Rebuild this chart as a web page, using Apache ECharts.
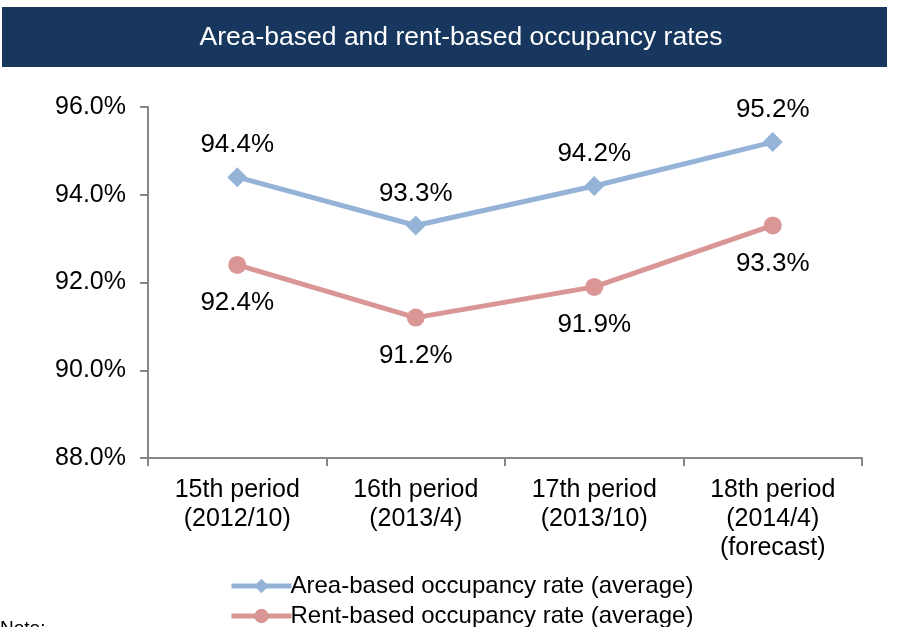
<!DOCTYPE html>
<html style="height: 100%">
    <head>
        <meta charset="utf-8">
    </head>
    <body style="height: 100%; margin: 0">
        <div id="container" style="width: 911px; height: 627px"></div>

        <script type="text/javascript" src="https://cdn.jsdelivr.net/npm/echarts@6/dist/echarts.min.js"></script>
        <script type="text/javascript">
var categories = [
    '15th period\n(2012/10)',
    '16th period\n(2013/4)',
    '17th period\n(2013/10)',
    '18th period\n(2014/4)\n(forecast)'
];
var areaRate = [94.4, 93.3, 94.2, 95.2];
var rentRate = [92.4, 91.2, 91.9, 93.3];
var seriesNames = ['Area-based occupancy rate (average)', 'Rent-based occupancy rate (average)'];

var dom = document.getElementById("container");
var myChart = echarts.init(dom);
var font = 'Liberation Sans, Arial, sans-serif';

var legendStyle = function (name, top) {
    return {
        left: 224,
        top: top,
        itemWidth: 60,
        itemHeight: 18,
        lineStyle: { width: 5 },
        textStyle: { fontSize: 24, color: '#000', fontFamily: font, padding: [0, 0, 0, -6] },
        data: [name]
    };
};

var option = {
    animation: false,
    backgroundColor: '#fff',
    textStyle: { fontFamily: font },
    graphic: [
        {
            type: 'rect',
            shape: { x: 2, y: 7, width: 885, height: 60 },
            style: { fill: '#17375e' }
        },
        {
            type: 'text',
            x: 461,
            y: 38,
            style: {
                text: 'Area-based and rent-based occupancy rates',
                fill: '#fff',
                font: '26.5px ' + font,
                align: 'center',
                verticalAlign: 'middle'
            }
        },
        {
            type: 'text',
            x: 0,
            y: 619,
            style: { text: 'Note:', fill: '#000', font: '19px ' + font }
        }
    ],
    grid: { left: 148, right: 49, top: 107, bottom: 169 },
    legend: [
        legendStyle(seriesNames[0], 569),
        legendStyle(seriesNames[1], 599)
    ],
    xAxis: {
        type: 'category',
        data: categories,
        axisLine: { lineStyle: { color: '#868686', width: 2 } },
        axisTick: { show: true, length: 8, lineStyle: { color: '#868686', width: 2 } },
        axisLabel: { fontSize: 25, color: '#000', lineHeight: 29, margin: 18, fontFamily: font }
    },
    yAxis: {
        type: 'value',
        min: 88,
        max: 96,
        interval: 2,
        axisLine: { show: true, lineStyle: { color: '#868686', width: 2 } },
        axisTick: { show: true, length: 8, lineStyle: { color: '#868686', width: 2 } },
        splitLine: { show: false },
        axisLabel: {
            fontSize: 25, color: '#000', margin: 22, fontFamily: font,
            formatter: function (v) { return v.toFixed(1) + '%'; }
        }
    },
    series: [
        {
            name: seriesNames[0],
            type: 'line',
            data: areaRate,
            symbol: 'diamond',
            symbolSize: 20,
            itemStyle: { color: '#95b3d7' },
            lineStyle: { width: 5, color: '#95b3d7' },
            label: {
                show: true, position: 'top', distance: 9, fontSize: 26, color: '#000', fontFamily: font,
                formatter: function (p) { return p.value.toFixed(1) + '%'; }
            }
        },
        {
            name: seriesNames[1],
            type: 'line',
            data: rentRate,
            symbol: 'circle',
            symbolSize: 18,
            itemStyle: { color: '#d99694' },
            lineStyle: { width: 5, color: '#d99694' },
            label: {
                show: true, position: 'bottom', distance: 16, fontSize: 26, color: '#000', fontFamily: font,
                formatter: function (p) { return p.value.toFixed(1) + '%'; }
            }
        }
    ]
};

myChart.setOption(option);
        </script>
    </body>
</html>
